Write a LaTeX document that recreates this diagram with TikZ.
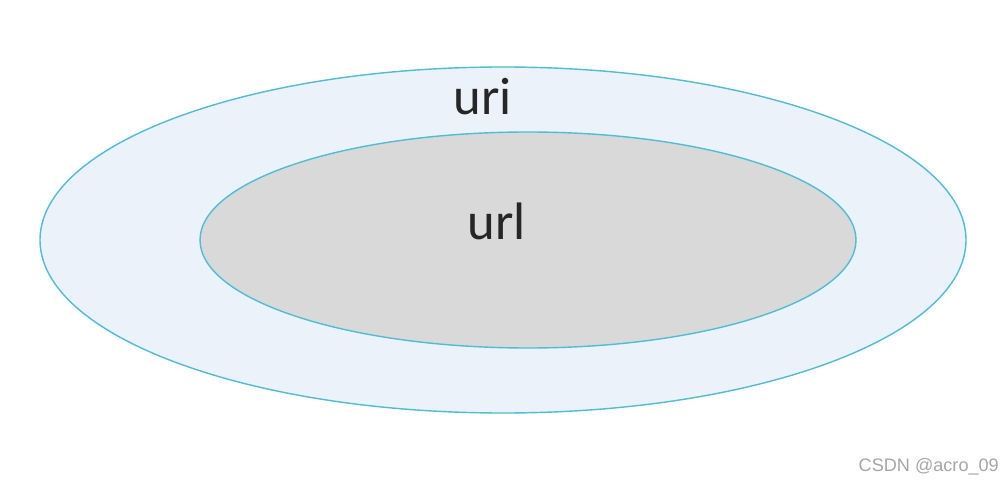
\documentclass[tikz,border=0pt]{standalone}
\usepackage{fontspec}
\setmainfont{Carlito}
\newfontfamily\markfont{Liberation Sans}
\usepackage{xcolor}
\usetikzlibrary{positioning}
\definecolor{ringline}{RGB}{78,190,212}
\definecolor{outerfill}{RGB}{235,242,250}
\definecolor{innerfill}{RGB}{217,217,217}

\begin{document}
\begin{tikzpicture}[x=0.02cm, y=-0.02cm,
      ring/.style={draw=ringline, line width=0.8pt},
      lbl/.style={font=\fontsize{30}{36}\selectfont, text=black!85}]
    \useasboundingbox (0,0) rectangle (1007,486);
    \fill[white] (0,0) rectangle (1007,486);
    \filldraw[ring, fill=outerfill] (503,240) ellipse [x radius=463, y radius=173];
    \filldraw[ring, fill=innerfill] (528,240) ellipse [x radius=328, y radius=108];
    \node[lbl] (uri) at (483,97) {uri};
    \node[lbl] (url) at (497,221) {url};
    \node[font=\markfont\fontsize{10.3}{12}\selectfont, text=black!35, anchor=east] (mark) at (1005,467) {CSDN @acro\_09};
  \end{tikzpicture}
\end{document}
